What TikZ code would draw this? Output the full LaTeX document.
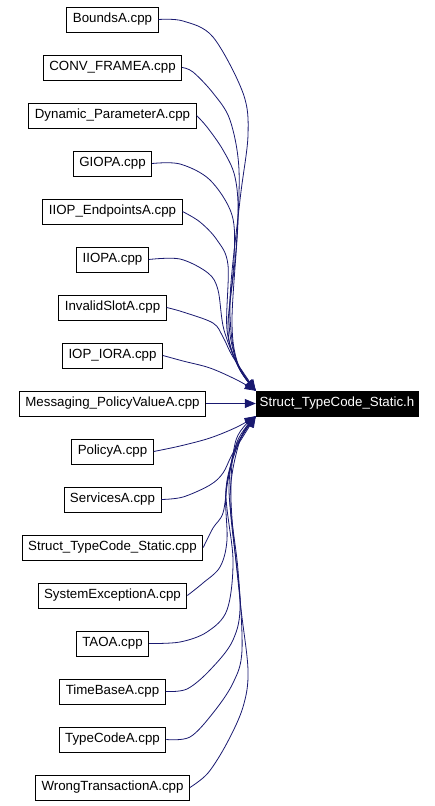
\documentclass[tikz,border=0pt]{standalone}
\usepackage{fontspec}
\setmainfont{Liberation Sans}
\usetikzlibrary{arrows.meta}
\definecolor{midnight}{HTML}{191970}
\tikzset{
	filebox/.style={draw=black, line width=0.9pt, fill=white, font=\fontsize{13.3}{15}\selectfont, inner xsep=6pt, inner ysep=0pt, minimum height=25pt},
	rootbox/.style={draw=black, fill=black, text=white, font=\fontsize{13.3}{15}\selectfont, inner sep=0pt, minimum height=25pt, minimum width=162pt},
	dep/.style={draw=midnight, line width=0.8pt, -{Triangle[length=11pt,width=9pt,fill=midnight]}}
}
\begin{document}
\begin{tikzpicture}[x=1pt,y=-1pt]
				\useasboundingbox (0,0) rectangle (435,806);
				
				\node[rootbox] (root) at (337,403.5) {Struct\_TypeCode\_Static.h};
				
				\node[filebox] (bounds) at (112.5,19.5) {BoundsA.cpp};
				\node[filebox] (conv) at (112.5,67.5) {CONV\_FRAMEA.cpp};
				\node[filebox] (dynparam) at (112.5,115.5) {Dynamic\_ParameterA.cpp};
				\node[filebox] (giop) at (112.5,163.5) {GIOPA.cpp};
				\node[filebox] (iiopend) at (112.5,211.5) {IIOP\_EndpointsA.cpp};
				\node[filebox] (iiop) at (112.5,259.5) {IIOPA.cpp};
				\node[filebox] (invslot) at (112.5,307.5) {InvalidSlotA.cpp};
				\node[filebox] (ioprior) at (112.5,355.5) {IOP\_IORA.cpp};
				\node[filebox] (msgpol) at (112.5,403.5) {Messaging\_PolicyValueA.cpp};
				\node[filebox] (policy) at (112.5,451.5) {PolicyA.cpp};
				\node[filebox] (services) at (112.5,499.5) {ServicesA.cpp};
				\node[filebox] (stcstatic) at (112.5,547.5) {Struct\_TypeCode\_Static.cpp};
				\node[filebox] (sysexc) at (112.5,595.5) {SystemExceptionA.cpp};
				\node[filebox] (tao) at (112.5,643.5) {TAOA.cpp};
				\node[filebox] (timebase) at (112.5,691.5) {TimeBaseA.cpp};
				\node[filebox] (typecode) at (112.5,739.5) {TypeCodeA.cpp};
				\node[filebox] (wrongtx) at (112.5,787.5) {WrongTransactionA.cpp};
				
				\draw[dep] plot[smooth, tension=0.55] coordinates {(bounds.east) (183,21) (213,37) (243,93) (248,135) (240,200) (230,300) (236,360) (root.north west)};
				\draw[dep] plot[smooth, tension=0.55] coordinates {(conv.east) (193,72) (213,93) (230,120) (239,170) (236,250) (229,320) (237,362) (root.north west)};
				\draw[dep] plot[smooth, tension=0.55] coordinates {(dynparam.east) (207,127) (223,150) (235,177) (238,220) (232,320) (238,364) (root.north west)};
				\draw[dep] plot[smooth, tension=0.55] coordinates {(giop.east) (180,164) (210,180) (232,215) (234,260) (228,330) (238,366) (root.north west)};
				\draw[dep] plot[smooth, tension=0.55] coordinates {(iiopend.east) (200,222) (217,240) (228,265) (227,330) (239,368) (root.north west)};
				\draw[dep] plot[smooth, tension=0.55] coordinates {(iiop.east) (180,259) (208,273) (218,290) (224,330) (240,370) (root.north west)};
				\draw[dep] plot[smooth, tension=0.55] coordinates {(invslot.east) (183,312) (213,323) (223,337) (233,357) (root.north west)};
				\draw[dep] plot[smooth, tension=0.55] coordinates {(ioprior.east) (183,361) (210,368) (237,380) (root.north west)};
				
				\draw[dep] (msgpol.east) -- (root.west);
				
				\draw[dep] plot[smooth, tension=0.55] coordinates {(policy.east) (180,446) (210,438) (237,427) (root.south west)};
				\draw[dep] plot[smooth, tension=0.55] coordinates {(services.east) (183,497) (210,485) (223,473) (233,453) (root.south west)};
				\draw[dep] plot[smooth, tension=0.55] coordinates {(stcstatic.east) (213,528) (223,513) (228,480) (236,446) (root.south west)};
				\draw[dep] plot[smooth, tension=0.55] coordinates {(sysexc.east) (203,583) (220,567) (227,540) (226,490) (238,444) (root.south west)};
				\draw[dep] plot[smooth, tension=0.55] coordinates {(tao.east) (180,642) (207,632) (227,610) (233,560) (226,490) (239,442) (root.south west)};
				\draw[dep] plot[smooth, tension=0.55] coordinates {(timebase.east) (187,689) (210,670) (233,640) (240,600) (230,500) (240,440) (root.south west)};
				\draw[dep] plot[smooth, tension=0.55] coordinates {(typecode.east) (190,737) (213,713) (233,683) (242,650) (238,570) (229,490) (237,442) (root.south west)};
				\draw[dep] plot[smooth, tension=0.55] coordinates {(wrongtx.east) (208,773) (227,743) (243,707) (248,670) (240,600) (231,500) (236,440) (root.south west)};
\end{tikzpicture}
\end{document}
